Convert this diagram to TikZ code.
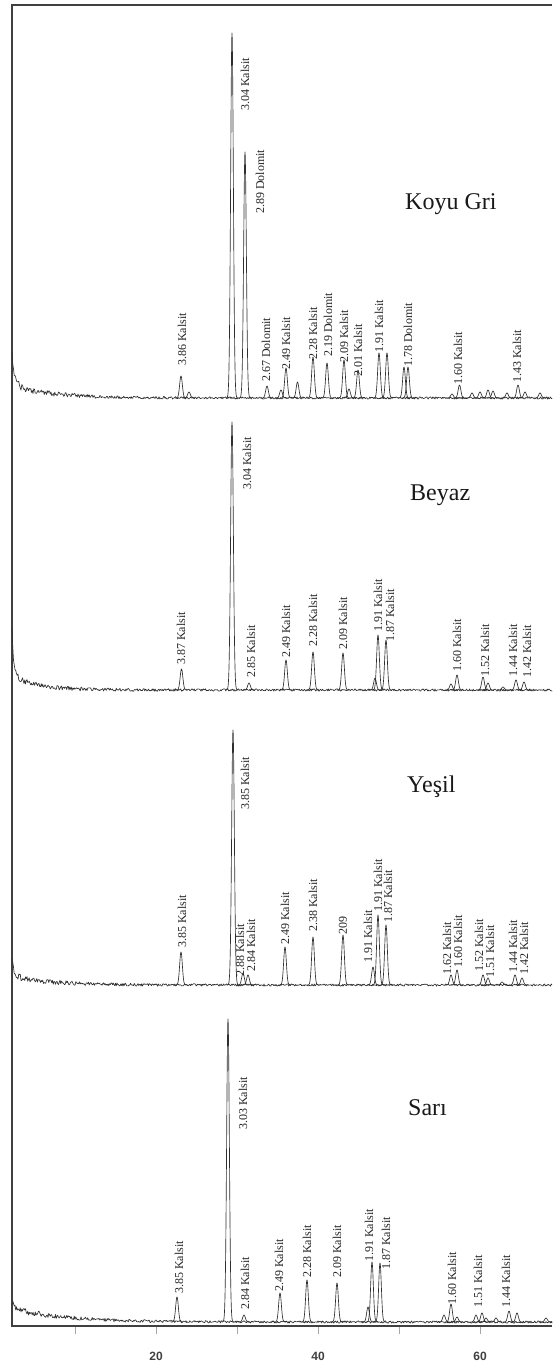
\documentclass[tikz,border=0pt]{standalone}
\usepackage{fontspec}
\setmainfont{Liberation Serif}
\newfontfamily\axfont{Liberation Sans}
\begin{document}
\begin{tikzpicture}[x=1pt,y=-1pt,
  trace/.style={line width=0.65pt, draw=black!82, line join=round, line cap=round},
  pklabel/.style={rotate=90, anchor=west, inner sep=0pt, font=\fontsize{12}{13}\selectfont, text=black!85},
  title/.style={anchor=base west, inner sep=0pt, font=\fontsize{24}{28}\selectfont, text=black!90},
  framel/.style={line width=1.1pt, draw=black!75},
  tickl/.style={line width=0.8pt, draw=black!35},
  ticklab/.style={inner sep=0pt, font=\axfont\bfseries\fontsize{12}{14}\selectfont, text=black!75}]
\useasboundingbox (0,0) rectangle (552,1364);
\fill[white] (0,0) rectangle (552,1364);
\pgfmathsetseed{4711}
% ---------- frame and axis ----------
\coordinate (tl) at (12,5);
\coordinate (tr) at (552,5);
\coordinate (bl) at (12,1326);
\coordinate (br) at (552,1326);
\draw[framel] (tr) -- (tl) -- (bl) -- (br);
\foreach \xx/\nm in {75/a,156/b,237/c,318/d,399/e,480/f}{
  \coordinate (t\nm) at (\xx,1327);
  \coordinate (u\nm) at (\xx,1334);
  \draw[tickl] (t\nm) -- (u\nm);
}
\node[ticklab] (l20) at (156,1356) {20};
\node[ticklab] (l40) at (318,1356) {40};
\node[ticklab] (l60) at (480,1356) {60};
% ---------- Koyu Gri ----------
\draw[trace] plot[domain=12:552, samples=721, variable=\t]
  (\t,{398-30*exp(-min((\t-12)/3,20))-12*exp(-min((\t-12)/40,20))+(1.1+2.6*exp(-min((\t-12)/60,20)))*rand});
\foreach \c/\h in {181/22,189/6,232/365,245/246,267/12,281/8,286/30,297.5/16,313/41,327/35,344/38,349/9,358/28,379/45,387/45,404/31,408/31,452/4,459.5/13,472/5,480/6,488/8,493/7,507/5,518/13,525/6,540/5}{
  \pgfmathsetmacro\xa{\c-6}\pgfmathsetmacro\xb{\c+6}
  \draw[trace] plot[domain=\xa:\xb, samples=49, variable=\t] (\t,{398-\h*exp(-0.5*((\t-\c)/1.35)^2)});
}
\node[title] (kg) at (405,209.5) {Koyu Gri};
\foreach \x/\y/\txt [count=\i] in {182/366/3.86 Kalsit,245/111/3.04 Kalsit,260/214/2.89 Dolomit,266/382/2.67 Dolomit,286/370/2.49 Kalsit,313/360/2.28 Kalsit,328/357/2.19 Dolomit,344/363/2.09 Kalsit,358/377/2.01 Kalsit,379/353/1.91 Kalsit,408/367/1.78 Dolomit,458/385/1.60 Kalsit,517/383/1.43 Kalsit}{
  \node[pklabel] (kgl\i) at (\x,\y) {\txt};
}
% ---------- Beyaz ----------
\draw[trace] plot[domain=12:552, samples=721, variable=\t]
  (\t,{690-45*exp(-min((\t-12)/1.5,20))-15*exp(-min((\t-12)/25,20))+(1.1+2.6*exp(-min((\t-12)/60,20)))*rand});
\foreach \c/\h in {181.5/21,232/268,249/7,286/30,313/38,343/37,375/12,378/55,386/50,451/6,457/15,483/13,488/7,503/3,516/10,524/8}{
  \pgfmathsetmacro\xa{\c-6}\pgfmathsetmacro\xb{\c+6}
  \draw[trace] plot[domain=\xa:\xb, samples=49, variable=\t] (\t,{690-\h*exp(-0.5*((\t-\c)/1.35)^2)});
}
\node[title] (bz) at (410,500) {Beyaz};
\foreach \x/\y/\txt [count=\i] in {181/665/3.87 Kalsit,247/490/3.04 Kalsit,251/678/2.85 Kalsit,286/658/2.49 Kalsit,313/647/2.28 Kalsit,343/650/2.09 Kalsit,378/632/1.91 Kalsit,390/642/1.87 Kalsit,457/672/1.60 Kalsit,485/677/1.52 Kalsit,513/677/1.44 Kalsit,527/678/1.42 Kalsit}{
  \node[pklabel] (bzl\i) at (\x,\y) {\txt};
}
% ---------- Yesil ----------
\draw[trace] plot[domain=12:552, samples=721, variable=\t]
  (\t,{985-15*exp(-min((\t-12)/2,20))-10*exp(-min((\t-12)/35,20))+(1.1+2.6*exp(-min((\t-12)/60,20)))*rand});
\foreach \c/\h in {181/33,233/255,243/12,248/10,285/38,313/48,343/50,373/18,378/70,386/60,451/10,457/15,483/10,488/7,502/3,515/10,522/7}{
  \pgfmathsetmacro\xa{\c-6}\pgfmathsetmacro\xb{\c+6}
  \draw[trace] plot[domain=\xa:\xb, samples=49, variable=\t] (\t,{985-\h*exp(-0.5*((\t-\c)/1.35)^2)});
}
\node[title] (ys) at (407,792) {Yeşil};
\foreach \x/\y/\txt [count=\i] in {182/948/3.85 Kalsit,245/810/3.85 Kalsit,240/977/2.88 Kalsit,251/972/2.84 Kalsit,285/945/2.49 Kalsit,313/932/2.38 Kalsit,343/935/209,368/963/1.91 Kalsit,378/912/1.91 Kalsit,388/923/1.87 Kalsit,447/975/1.62 Kalsit,458/968/1.60 Kalsit,479/972/1.52 Kalsit,490/978/1.51 Kalsit,513/973/1.44 Kalsit,524/975/1.42 Kalsit}{
  \node[pklabel] (ysl\i) at (\x,\y) {\txt};
}
% ---------- Sari ----------
\draw[trace] plot[domain=12:552, samples=721, variable=\t]
  (\t,{1322-6*exp(-min((\t-12)/3,20))-14*exp(-min((\t-12)/50,20))+(1.1+2.6*exp(-min((\t-12)/60,20)))*rand});
\foreach \c/\h in {177/25,228/303,244/7,280/29,307/42,337/39,368/15,372/60,380/59,444/7,451/18,457/5,476/7,482/9,486/4,496/4,509/11,517/9,546/4}{
  \pgfmathsetmacro\xa{\c-6}\pgfmathsetmacro\xb{\c+6}
  \draw[trace] plot[domain=\xa:\xb, samples=49, variable=\t] (\t,{1322-\h*exp(-0.5*((\t-\c)/1.35)^2)});
}
\node[title] (sr) at (408,1115) {Sarı};
\foreach \x/\y/\txt [count=\i] in {179/1294/3.85 Kalsit,243/1130/3.03 Kalsit,245/1310/2.84 Kalsit,279/1292/2.49 Kalsit,307/1278/2.28 Kalsit,337/1278/2.09 Kalsit,369/1262/1.91 Kalsit,386/1270/1.87 Kalsit,452/1305/1.60 Kalsit,478/1308/1.51 Kalsit,506/1308/1.44 Kalsit}{
  \node[pklabel] (srl\i) at (\x,\y) {\txt};
}
\end{tikzpicture}
\end{document}
